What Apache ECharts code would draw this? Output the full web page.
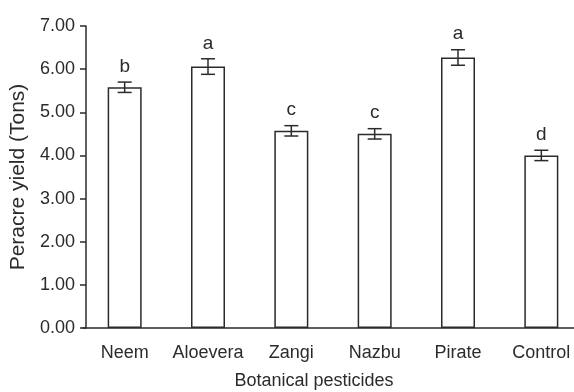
<!DOCTYPE html>
<html>
<head>
<meta charset="utf-8">
<script src="https://cdn.jsdelivr.net/npm/echarts@6/dist/echarts.min.js"></script>
<style>
  html, body { margin: 0; padding: 0; background: #fff; }
  #chart { width: 574px; height: 392px; }
</style>
</head>
<body>
<div id="chart"></div>
<script>
// Peracre yield by botanical pesticide treatment
const categories = ['Neem', 'Aloevera', 'Zangi', 'Nazbu', 'Pirate', 'Control'];
const yieldMeans = [5.58, 6.06, 4.57, 4.50, 6.27, 4.00];
const yieldErrors = [0.12, 0.18, 0.12, 0.12, 0.18, 0.12];
const groupLetters = ['b', 'a', 'c', 'c', 'a', 'd'];
const yTicks = [0, 1, 2, 3, 4, 5, 6, 7];

const ink = '#2b2b2b';
const font = '"Liberation Sans", Arial, sans-serif';

const chart = echarts.init(document.getElementById('chart'), null, { renderer: 'canvas' });

const errorData = categories.map((c, i) => [i, yieldMeans[i], yieldErrors[i]]);

chart.setOption({
  animation: false,
  backgroundColor: '#fff',
  grid: { left: 83, right: -9, top: 26, bottom: 64, containLabel: false, outerBoundsMode: 'none' },
  xAxis: {
    type: 'category',
    data: categories,
    name: 'Botanical pesticides',
    nameLocation: 'middle',
    nameGap: 44,
    nameMoveOverlap: false,
    nameTextStyle: { color: ink, fontSize: 18, fontFamily: font, padding: [0, 38, 0, 0] },
    axisLine: { lineStyle: { color: ink, width: 1.5 } },
    axisTick: {
      length: 8,
      lineStyle: { color: ink, width: 1.5 },
      interval: function (index) { return index !== 0; }
    },
    axisLabel: { color: ink, fontSize: 18, fontFamily: font, margin: 16, interval: 0 }
  },
  yAxis: {
    type: 'value',
    min: yTicks[0],
    max: yTicks[yTicks.length - 1],
    interval: 1,
    offset: -3,
    name: 'Peracre yield (Tons)',
    nameLocation: 'middle',
    nameGap: 57,
    nameMoveOverlap: false,
    nameRotate: 90,
    nameTextStyle: { color: ink, fontSize: 21, fontFamily: font },
    axisLine: { show: true, lineStyle: { color: ink, width: 1.5 } },
    axisTick: { show: true, length: 6, lineStyle: { color: ink, width: 1.5 } },
    splitLine: { show: false },
    axisLabel: {
      color: ink, fontSize: 18, fontFamily: font, margin: 11,
      formatter: v => v.toFixed(2)
    }
  },
  series: [
    {
      type: 'bar',
      data: yieldMeans,
      barWidth: 34,
      itemStyle: { color: '#fff', borderColor: ink, borderWidth: 1.5 },
      z: 2
    },
    {
      type: 'custom',
      data: errorData,
      z: 3,
      renderItem: function (params, api) {
        const i = api.value(0);
        const m = api.value(1);
        const e = api.value(2);
        const letter = groupLetters[params.dataIndex];
        const top = api.coord([i, m + e]);
        const bot = api.coord([i, m - e]);
        const cap = 7;
        const style = { stroke: ink, lineWidth: 1.5 };
        return {
          type: 'group',
          children: [
            { type: 'line', shape: { x1: top[0], y1: top[1], x2: bot[0], y2: bot[1] }, style: style },
            { type: 'line', shape: { x1: top[0] - cap, y1: top[1], x2: top[0] + cap, y2: top[1] }, style: style },
            { type: 'line', shape: { x1: bot[0] - cap, y1: bot[1], x2: bot[0] + cap, y2: bot[1] }, style: style },
            {
              type: 'text',
              style: {
                text: letter, x: top[0], y: top[1] - 6,
                align: 'center', verticalAlign: 'bottom',
                fill: ink, fontSize: 19, fontFamily: font
              }
            }
          ]
        };
      }
    }
  ]
});
</script>
</body>
</html>
